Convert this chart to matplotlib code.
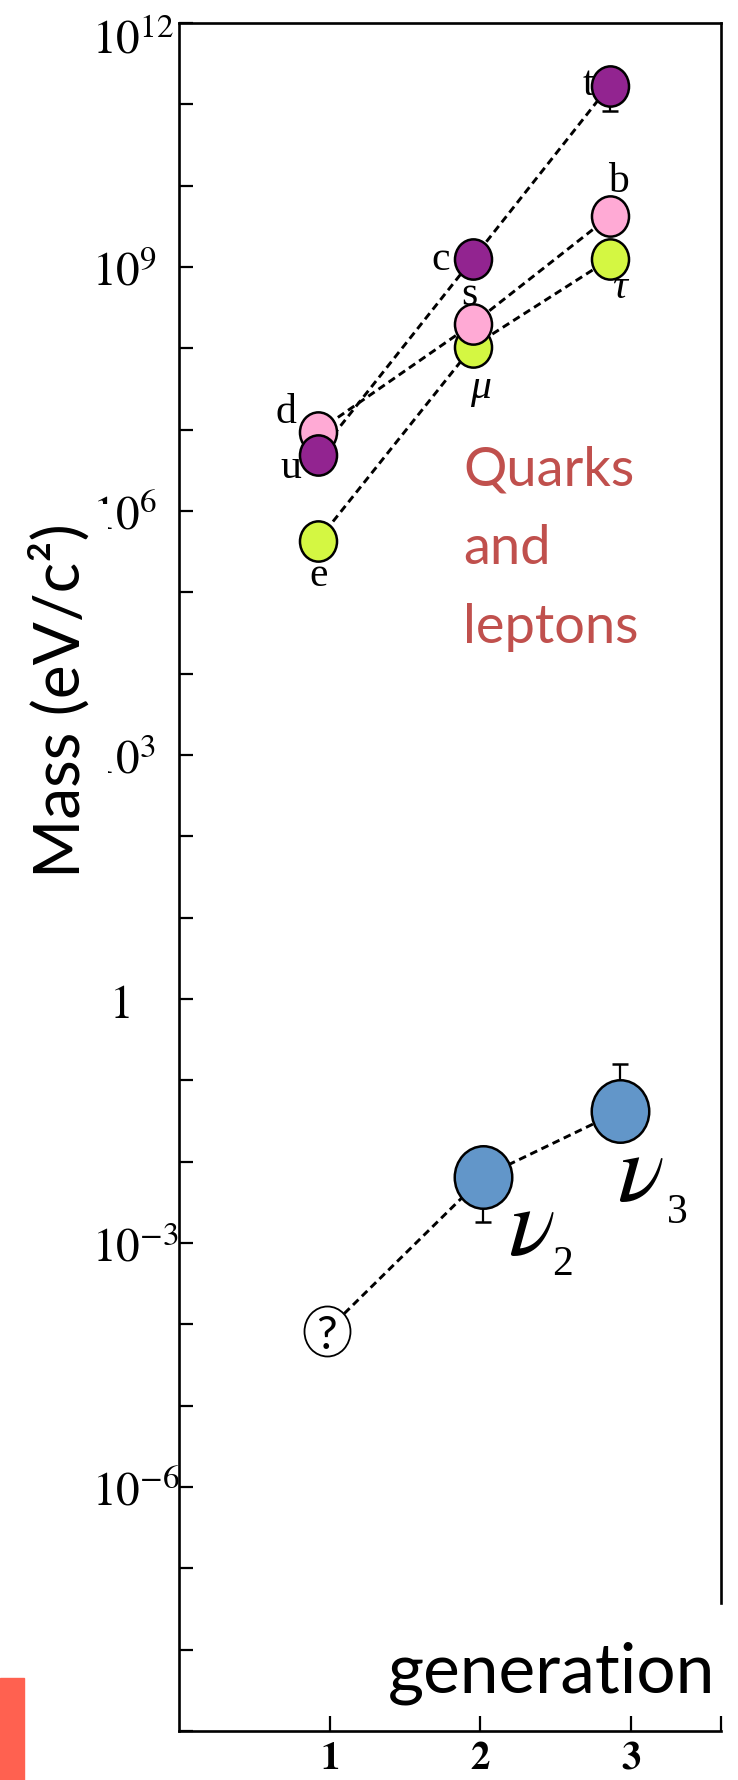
import matplotlib
matplotlib.use('Agg')
import matplotlib.pyplot as plt
from matplotlib.path import Path
from matplotlib.markers import MarkerStyle
from matplotlib.transforms import Affine2D, ScaledTranslation
from matplotlib.patches import Rectangle

plt.rcParams['mathtext.fontset'] = 'stix'
plt.rcParams['lines.scale_dashes'] = False

# generation position of each family (charged fermions and neutrinos)
gen_x = [0.92, 1.95, 2.86]
nu_x = [0.98, 2.02, 2.93]

# masses in eV/c^2, one list per family line
up_names = ['u', 'c', 't']
up_mass = [4.9e6, 1.25e9, 1.7e11]
down_names = ['d', 's', 'b']
down_mass = [9.5e6, 2.0e8, 4.2e9]
lepton_names = ['e', 'μ', 'τ']
lepton_mass = [4.3e5, 1.05e8, 1.25e9]
nu_names = ['?', 'ν2', 'ν3']
nu_mass = [8.3e-5, 6.5e-3, 4.2e-2]

# error bar ends: top quark lower end, nu2 lower end, nu3 upper end
top_low = 8.3e10
nu2_low = 1.8e-3
nu3_high = 0.16

ytick_exp = list(range(-9, 13))
ytick_text = {12: r'$10^{12}$', 9: r'$10^{9}$', 6: r'$10^{6}$', 3: r'$10^{3}$',
              0: r'$\enspace1$', -3: r'$10^{-3}$', -6: r'$10^{-6}$'}
xtick_vals = [1, 2, 3, 3.6]
xtick_text = [r'$\mathbf{1}$', r'$\mathbf{2}$', r'$\mathbf{3}$', '']

# label offsets in points (dx, dy) relative to each marker
label_off = {'t': (-15, -6), 'b': (6.5, 18), 'c': (-23, -7), 's': (-2, 14),
             'τ': (7, -27), 'μ': (6, -36), 'd': (-23, 7), 'u': (-19, -16),
             'e': (0.7, -32)}

purple = '#922490'
pink = '#FFAAD5'
lime = '#D4F742'
blue = '#6296C9'

fig = plt.figure(figsize=(7.38, 17.81), dpi=100)
ax = fig.add_axes([0.2426, 0.0275, 0.7344, 0.959])
ax.set_yscale('log')
ax.set_ylim(1e-9, 1e12)
ax.set_xlim(0, 3.6)

oval = MarkerStyle(Path.unit_circle().transformed(Affine2D().scale(0.92, 1.0)))
dash = dict(color='black', lw=2.1, ls=(0, (5.5, 3.4)), zorder=2)

# family lines, drawn lime -> pink -> purple so the overlaps stack right
for masses, col in [(lepton_mass, lime), (down_mass, pink), (up_mass, purple)]:
    ax.plot(gen_x, masses, **dash)
    ax.plot(gen_x, masses, ls='none', marker=oval, ms=29, mfc=col,
            mec='black', mew=1.8, zorder=3)

ax.plot(nu_x, nu_mass, **dash)
ax.plot(nu_x[1:], nu_mass[1:], ls='none', marker=oval, ms=45, mfc=blue,
        mec='black', mew=1.8, zorder=3)
ax.plot(nu_x[:1], nu_mass[:1], ls='none', marker=oval, ms=36, mfc='white',
        mec='black', mew=1.3, zorder=3)

# leftover error bars
eb = dict(fmt='none', ecolor='black', elinewidth=1.6, capsize=5.5,
          capthick=1.8, zorder=2.5)
ax.errorbar([gen_x[2]], [up_mass[2]], yerr=[[up_mass[2] - top_low], [0]], **eb)
ax.errorbar([nu_x[1]], [nu_mass[1]], yerr=[[nu_mass[1] - nu2_low], [0]], **eb)
ax.errorbar([nu_x[2]], [nu_mass[2]], yerr=[[0], [nu3_high - nu_mass[2]]], **eb)

# particle letters
for names, masses in [(up_names, up_mass), (down_names, down_mass),
                      (lepton_names, lepton_mass)]:
    for n, x, m in zip(names, gen_x, masses):
        style = 'italic' if n in 'μτ' else 'normal'
        ax.annotate(n, (x, m), xytext=label_off[n], textcoords='offset points',
                    ha='center', va='baseline', fontsize=30, fontstyle=style,
                    family='Liberation Serif', zorder=2.8)

ax.annotate('?', (nu_x[0], nu_mass[0]), xytext=(0, -12),
            textcoords='offset points', ha='center', va='baseline',
            fontsize=33, family='Lato', zorder=4)
for x, m, sub, off, soff in [(nu_x[1], nu_mass[1], '2', (18, -55), (50, -70)),
                             (nu_x[2], nu_mass[2], '3', (-2, -63), (34, -80))]:
    ax.annotate(r'$\nu$', (x, m), xytext=off, textcoords='offset points',
                ha='left', va='baseline', fontsize=70, zorder=4)
    ax.annotate(sub, (x, m), xytext=soff, textcoords='offset points',
                ha='left', va='baseline', fontsize=30,
                family='Liberation Serif', zorder=4)

# axes styling
ax.set_yticks([10.0 ** e for e in ytick_exp])
ax.set_yticklabels([ytick_text.get(e, '') for e in ytick_exp])
ax.yaxis.set_minor_locator(matplotlib.ticker.NullLocator())
ax.set_xticks(xtick_vals)
ax.set_xticklabels(xtick_text)
ax.tick_params(axis='y', direction='in', length=10, width=1.6, pad=63,
               labelsize=34)
ax.tick_params(axis='x', direction='in', length=11, width=1.6, pad=5,
               labelsize=28)
for lab in ax.get_yticklabels():
    lab.set_horizontalalignment('left')
# the top label sits a little below its tick
top_lab = ax.get_yticklabels()[-1]
top_lab.set_transform(top_lab.get_transform()
                      + ScaledTranslation(0, -0.12, fig.dpi_scale_trans))
for sp in ax.spines.values():
    sp.set_linewidth(1.9)
ax.spines['right'].set_bounds(3.8e-8, 1e12)

ax.set_ylabel('Mass (eV/c²)', family='Lato', fontsize=46,
              bbox=dict(fc='white', ec='none', boxstyle='square,pad=0.28'))
ax.yaxis.set_label_coords(-0.22, 0.604)
ax.yaxis.label.set_va('center')

ax.text(0.524, 0.7535, 'Quarks\nand\nleptons', transform=ax.transAxes,
        color='#C0504D', family='Lato', fontsize=39, ha='left', va='top',
        linespacing=1.75)
ax.text(0.3856, 0.0234, 'generation', transform=ax.transAxes, family='Lato',
        fontsize=50, ha='left', va='baseline')

fig.patches.append(Rectangle((0, 0), 24 / 738, 102 / 1781,
                             transform=fig.transFigure, color='#FF6150'))

fig.savefig('out.png', dpi=100)
